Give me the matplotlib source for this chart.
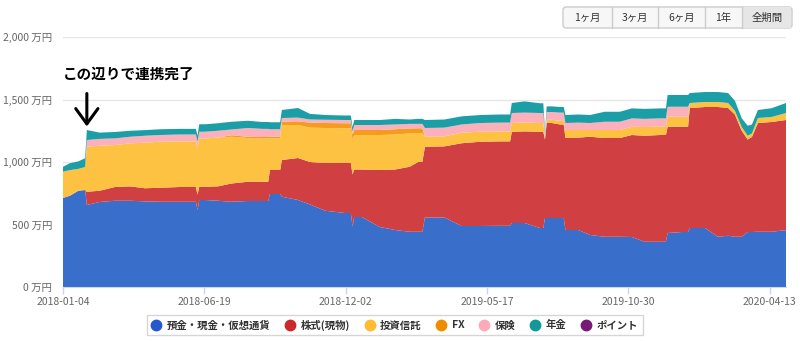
import pandas as pd
import numpy as np
import matplotlib
matplotlib.use("Agg")
import matplotlib.pyplot as plt
import matplotlib.dates as mdates
from matplotlib.lines import Line2D
from matplotlib.patches import FancyBboxPatch, Rectangle
from matplotlib.ticker import FuncFormatter

plt.rcParams['font.family'] = ['Noto Sans CJK JP', 'DejaVu Sans']

# ====================== asset balance (万円) by date ======================= #

dates = [
    "2018-01-04", "2018-01-12", "2018-01-22", "2018-01-30", "2018-02-01",
    "2018-02-16", "2018-03-06", "2018-03-24", "2018-04-10", "2018-04-28",
    "2018-05-21", "2018-06-09", "2018-06-11", "2018-06-13", "2018-06-20",
    "2018-07-05", "2018-07-21", "2018-08-09", "2018-08-26", "2018-09-02",
    "2018-09-04", "2018-09-16", "2018-09-18", "2018-10-07", "2018-10-21",
    "2018-11-08", "2018-12-01", "2018-12-08", "2018-12-10", "2018-12-12",
    "2018-12-21", "2019-01-11", "2019-01-29", "2019-02-15", "2019-02-25",
    "2019-03-02", "2019-03-05", "2019-03-28", "2019-04-17", "2019-05-09",
    "2019-06-01", "2019-06-13", "2019-06-15", "2019-06-30", "2019-07-18",
    "2019-07-22", "2019-07-24", "2019-07-26", "2019-08-01", "2019-08-11",
    "2019-08-15", "2019-08-17", "2019-09-01", "2019-09-15", "2019-10-02",
    "2019-10-20", "2019-11-03", "2019-11-18", "2019-12-06", "2019-12-13",
    "2019-12-15", "2020-01-01", "2020-01-08", "2020-01-10", "2020-01-28",
    "2020-02-12", "2020-02-24", "2020-03-03", "2020-03-11", "2020-03-18",
    "2020-03-23", "2020-03-30", "2020-04-15", "2020-05-02",
]

deposits = [712, 730, 770, 776, 656, 680, 690, 690, 685, 682,
            682, 682, 616, 696, 696, 690, 682, 688, 688, 688,
            744, 744, 722, 696, 660, 610, 592, 592, 482, 560,
            560, 480, 456, 442, 442, 442, 556, 556, 488, 488,
            490, 490, 512, 512, 472, 472, 552, 552, 552, 552,
            552, 456, 456, 416, 402, 402, 400, 362, 362, 362,
            432, 440, 440, 472, 472, 402, 410, 402, 402, 440,
            440, 442, 442, 455]
stocks = [0, 0, 0, 0, 106, 90, 110, 115, 105, 112,
          118, 118, 124, 106, 106, 115, 146, 154, 154, 154,
          192, 192, 294, 336, 340, 382, 400, 400, 418, 380,
          380, 456, 484, 520, 558, 560, 566, 569, 662, 674,
          675, 675, 730, 733, 770, 770, 628, 760, 760, 748,
          748, 736, 739, 786, 790, 790, 816, 848, 854, 854,
          850, 842, 842, 960, 968, 1038, 1022, 978, 848, 740,
          760, 870, 878, 881]
trusts = [210, 205, 175, 184, 360, 360, 336, 344, 365, 368,
          365, 365, 370, 387, 387, 390, 374, 350, 346, 346,
          256, 256, 280, 264, 275, 280, 278, 278, 280, 276,
          276, 280, 280, 267, 232, 230, 80, 80, 85, 80,
          80, 80, 70, 70, 70, 70, 20, 26, 26, 30,
          30, 64, 61, 54, 64, 64, 66, 70, 66, 66,
          80, 80, 80, 40, 40, 40, 40, 30, 30, 30,
          28, 40, 40, 56]
fx = [0, 0, 0, 0, 0, 0, 0, 0, 0, 0,
      0, 0, 0, 0, 0, 0, 12, 10, 12, 12,
      10, 10, 26, 29, 40, 40, 40, 40, 40, 40,
      40, 40, 42, 40, 38, 38, 0, 0, 0, 0,
      0, 0, 0, 0, 0, 0, 0, 0, 0, 0,
      0, 0, 0, 0, 0, 0, 0, 0, 0, 0,
      0, 0, 0, 0, 0, 0, 0, 0, 0, 0,
      0, 0, 0, 0]
insurance = [0, 0, 0, 0, 54, 55, 53, 53, 55, 54,
             55, 55, 55, 53, 53, 55, 46, 70, 65, 65,
             60, 60, 30, 30, 25, 26, 26, 26, 25, 40,
             40, 40, 38, 36, 35, 35, 70, 70, 65, 70,
             70, 70, 80, 80, 80, 80, 20, 62, 62, 65,
             65, 56, 59, 56, 66, 66, 67, 65, 67, 67,
             80, 80, 80, 0, 0, 0, 0, 0, 0, 0,
             0, 0, 0, 0]
pension = [40, 55, 60, 70, 80, 50, 51, 48, 45, 46,
           45, 45, 45, 60, 60, 60, 62, 58, 55, 55,
           56, 56, 64, 77, 45, 38, 36, 36, 35, 40,
           40, 40, 45, 35, 40, 40, 64, 65, 65, 64,
           65, 65, 80, 90, 78, 78, 20, 45, 45, 45,
           45, 64, 65, 64, 80, 80, 80, 80, 80, 80,
           94, 94, 94, 80, 80, 80, 80, 80, 70, 80,
           72, 64, 70, 80]
points = [0, 0, 0, 0, 0, 0, 0, 0, 0, 0,
          0, 0, 0, 0, 0, 0, 0, 0, 0, 0,
          0, 0, 0, 0, 0, 0, 0, 0, 0, 0,
          0, 0, 0, 0, 0, 0, 0, 0, 0, 0,
          0, 0, 0, 0, 0, 0, 0, 0, 0, 0,
          0, 0, 0, 0, 0, 0, 0, 0, 0, 0,
          0, 0, 0, 0, 0, 0, 0, 0, 0, 0,
          0, 0, 0, 0]

labels = ["預金・現金・仮想通貨", "株式(現物)", "投資信託", "FX", "保険", "年金", "ポイント"]
fill_colors = ["#3a6ecb", "#d04042", "#fec242", "#f39c1d", "#fbb0bc", "#1c9ea7", "#7b1c7e"]
marker_colors = ["#2458cc", "#cc2a2a", "#ffbb33", "#f08c00", "#ffaabb", "#119999", "#771a77"]

tick_dates = ["2018-01-04", "2018-06-19", "2018-12-02", "2019-05-17", "2019-10-30", "2020-04-13"]
buttons = ["1ヶ月", "3ヶ月", "6ヶ月", "1年", "全期間"]

# ============================== PLOT ======================================= #

x = pd.to_datetime(dates)
fig = plt.figure(figsize=(8, 3.42), dpi=100)
ax = fig.add_axes([63 / 800, 1 - 287 / 342, 723 / 800, 250 / 342])

ax.stackplot(x, deposits, stocks, trusts, fx, insurance, pension, points,
             colors=fill_colors, linewidth=0)

ax.set_xlim(x[0], x[-1])
ax.set_ylim(0, 2000)
ax.set_yticks([0, 500, 1000, 1500, 2000])
ax.yaxis.set_major_formatter(FuncFormatter(lambda v, p: f"{int(v):,} 万円"))
ax.grid(axis="y", color="#e6e6e6", linewidth=1)
ax.set_axisbelow(True)
ax.set_xticks(pd.to_datetime(tick_dates))
ax.xaxis.set_major_formatter(mdates.DateFormatter("%Y-%m-%d"))

for s in ["top", "right", "left"]:
    ax.spines[s].set_visible(False)
ax.spines["bottom"].set_color("#ccd6eb")
ax.tick_params(axis="y", length=0, pad=8, labelsize=7.5, labelcolor="#666666")
ax.tick_params(axis="x", length=5, width=1, color="#ccd6eb", pad=2,
               labelsize=7.5, labelcolor="#666666")

# note about when the accounts were linked
ax.annotate("", xy=(pd.Timestamp("2018-02-01"), 1262), xytext=(pd.Timestamp("2018-02-01"), 1570),
            arrowprops=dict(arrowstyle="->,head_length=1.1,head_width=0.8", color="black", lw=2.2))
ax.text(pd.Timestamp("2018-01-04"), 1705, "この辺りで連携完了", fontsize=10.5,
        fontweight="bold", color="black", va="center", ha="left")

# range selector buttons
edges = [563, 612, 658, 705, 742, 792]
bx = fig.dpi_scale_trans
outer = FancyBboxPatch((edges[0] / 100, (342 - 28) / 100), (edges[-1] - edges[0]) / 100, 21 / 100,
                       boxstyle="round,pad=0,rounding_size=0.03", transform=bx,
                       facecolor="#f7f7f7", edgecolor="#cccccc", linewidth=1)
fig.patches.append(outer)
sel = Rectangle((edges[4] / 100, (342 - 27.5) / 100), (edges[5] - edges[4] - 1) / 100, 20 / 100,
                transform=bx, facecolor="#e6e6e6", edgecolor="none")
fig.patches.append(sel)
for e in edges[1:-1]:
    fig.lines.append(Line2D([e / 100, e / 100], [(342 - 28) / 100, (342 - 7) / 100],
                            transform=bx, color="#cccccc", linewidth=1))
for i, b in enumerate(buttons):
    cx = (edges[i] + edges[i + 1]) / 2
    fig.text(cx / 800, 1 - 17.5 / 342, b, fontsize=7.5, color="#333333",
             ha="center", va="center")

# legend
handles = [Line2D([], [], marker="o", linestyle="none", markersize=7.5,
                  markerfacecolor=c, markeredgecolor=c) for c in marker_colors]
leg = fig.legend(handles, labels, loc="center", bbox_to_anchor=(395 / 800, 1 - 325 / 342),
                 ncol=7, frameon=True, fancybox=False, edgecolor="#cccccc",
                 prop={"size": 7.5, "weight": "bold"}, handlelength=0.8,
                 handletextpad=0.6, columnspacing=1.5, borderpad=0.45)
leg.get_frame().set_linewidth(1)
for t in leg.get_texts():
    t.set_color("#333333")

fig.savefig("out.png", dpi=100)
